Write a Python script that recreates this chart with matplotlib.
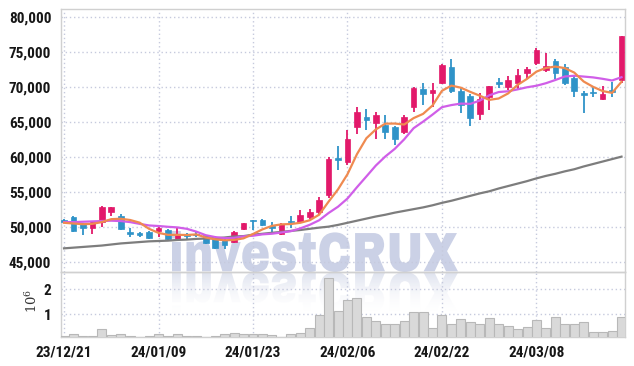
import matplotlib
matplotlib.use("Agg")
import matplotlib.pyplot as plt
import numpy as np
from matplotlib.textpath import TextPath
from matplotlib.patches import PathPatch
from matplotlib.font_manager import FontProperties
from matplotlib.transforms import Affine2D
from matplotlib.colors import LinearSegmentedColormap

dates = ["23/12/21", "23/12/22", "23/12/26", "23/12/27", "23/12/28", "24/01/02", "24/01/03", "24/01/04",
         "24/01/05", "24/01/08", "24/01/09", "24/01/10", "24/01/11", "24/01/12", "24/01/15", "24/01/16",
         "24/01/17", "24/01/18", "24/01/19", "24/01/22", "24/01/23", "24/01/24", "24/01/25", "24/01/26",
         "24/01/29", "24/01/30", "24/01/31", "24/02/01", "24/02/02", "24/02/05", "24/02/06", "24/02/07",
         "24/02/08", "24/02/13", "24/02/14", "24/02/15", "24/02/16", "24/02/19", "24/02/20", "24/02/21",
         "24/02/22", "24/02/23", "24/02/26", "24/02/27", "24/02/28", "24/02/29", "24/03/04", "24/03/05",
         "24/03/06", "24/03/07", "24/03/08", "24/03/11", "24/03/12", "24/03/13", "24/03/14", "24/03/15",
         "24/03/18", "24/03/19", "24/03/20", "24/03/21"]

opens = [51000, 51400, 50400, 49900, 50700, 52200, 51600, 49300, 49100, 49300,
         49400, 49600, 48300, 48800, 48900, 48800, 48600, 48100, 47900, 49700,
         50900, 51000, 50200, 49000, 50900, 50700, 51400, 52100, 54600, 59800,
         59300, 64300, 65700, 64900, 64600, 64300, 63600, 67100, 69700, 69100,
         70600, 72900, 69400, 68700, 66100, 68600, 70700, 70000, 70600, 72000,
         73400, 72400, 73700, 72900, 71300, 69100, 69300, 68300, 69600, 71000]
highs = [51100, 51500, 50600, 50800, 53000, 52900, 51900, 49800, 49300, 49400,
         50050, 49700, 49800, 49100, 49400, 48900, 48700, 48400, 49400, 50600,
         51000, 51200, 50700, 50500, 51500, 52400, 52600, 54300, 60000, 61500,
         63900, 67100, 66900, 66400, 66000, 64400, 66000, 70000, 70600, 70600,
         73300, 74000, 69800, 69000, 69100, 70200, 71300, 71500, 72600, 72900,
         75600, 74900, 74000, 73300, 71700, 69400, 70000, 70100, 70700, 77300]
lows = [50600, 49300, 48900, 49000, 50000, 51600, 49500, 48600, 48500, 48300,
        48600, 48200, 48200, 48300, 48500, 47600, 46800, 46900, 47700, 49500,
        49600, 50100, 49300, 48800, 49800, 50500, 51200, 51900, 54100, 58200,
        58900, 63300, 63900, 62600, 62600, 61700, 63300, 66400, 67400, 67100,
        70400, 69200, 66300, 64400, 65300, 66700, 69900, 69500, 69500, 71100,
        73200, 72100, 71100, 70300, 68600, 66300, 68600, 68100, 68600, 70600]
closes = [50700, 49400, 49900, 50700, 52800, 52800, 49700, 49000, 48800, 48400,
          49900, 48300, 49000, 48700, 48800, 47700, 47000, 47400, 49300, 50500,
          50800, 50300, 49900, 50400, 50700, 51700, 52100, 53900, 59700, 59500,
          62500, 66400, 65300, 66000, 63600, 62600, 65700, 69900, 69000, 69600,
          73100, 69400, 67400, 65600, 68300, 70100, 70400, 71000, 71700, 72600,
          75300, 73000, 72000, 70600, 69400, 68900, 69200, 69000, 69300, 77300]

ma5 = [50600, 50500, 50400, 50450, 50700, 51120, 51180, 51000, 50620, 49740,
       49160, 48880, 48880, 48860, 48940, 48500, 48240, 48100, 48150, 48380,
       49000, 49660, 50160, 50380, 50420, 50600, 50960, 51760, 53620, 55380,
       57540, 60400, 62680, 63940, 64760, 64780, 64640, 65560, 66160, 67360,
       69460, 70200, 69900, 69300, 68760, 68160, 68360, 69080, 70300, 71160,
       72200, 72720, 72920, 72700, 72060, 70780, 70020, 69420, 69160, 70740]
ma10 = [50700, 50700, 50750, 50800, 50850, 50900, 50850, 50700, 50450, 50220,
        50140, 50030, 49940, 49740, 49340, 48830, 48560, 48400, 48450, 48660,
        48750, 48950, 49040, 49210, 49400, 49800, 50310, 50960, 52000, 52900,
        54070, 55680, 57220, 58780, 60070, 61160, 62520, 64120, 65050, 66060,
        67120, 67420, 67630, 67590, 68060, 68810, 69280, 69390, 69660, 69960,
        70180, 70540, 71000, 71500, 71610, 71490, 71370, 71170, 70930, 71400]
ma60 = [46950, 47050, 47150, 47250, 47350, 47500, 47650, 47750, 47850, 47950,
        48000, 48050, 48150, 48200, 48300, 48350, 48400, 48500, 48650, 48700,
        48900, 49030, 49170, 49300, 49440, 49570, 49740, 49910, 50050, 50300,
        50600, 50900, 51200, 51500, 51750, 52050, 52300, 52550, 52800, 53100,
        53450, 53750, 54100, 54450, 54800, 55100, 55500, 55850, 56200, 56550,
        56950, 57300, 57600, 57950, 58250, 58650, 59000, 59350, 59700, 60050]
volume_m = [0.12, 0.20, 0.12, 0.12, 0.40, 0.15, 0.20, 0.12, 0.05, 0.12,
            0.20, 0.12, 0.20, 0.12, 0.12, 0.08, 0.13, 0.20, 0.23, 0.20,
            0.20, 0.20, 0.16, 0.09, 0.20, 0.23, 0.44, 0.94, 2.44, 1.14,
            1.55, 1.66, 0.87, 0.71, 0.60, 0.60, 0.71, 1.07, 1.07, 0.44,
            0.98, 0.60, 0.80, 0.67, 0.60, 0.84, 0.60, 0.52, 0.40, 0.49,
            0.76, 0.44, 0.87, 0.60, 0.60, 0.68, 0.29, 0.29, 0.33, 0.87]
price_ticks = [45000, 50000, 55000, 60000, 65000, 70000, 75000, 80000]
vol_ticks = [1, 2]

LABEL_FONT = ["Roboto Condensed", "Archivo Narrow", "Barlow Condensed", "DejaVu Sans"]

W, H = 634, 366
fig = plt.figure(figsize=(W / 100, H / 100), dpi=100)
fig.patch.set_facecolor("white")

# watermark (pixel coordinates)
bg = fig.add_axes([0, 0, 1, 1], zorder=-5)
bg.set_xlim(0, W)
bg.set_ylim(0, H)
bg.axis("off")
fp = FontProperties(family=["Archivo Black", "DejaVu Sans"], weight="bold")
tp = TextPath((0, 0), "investCRUX", size=100, prop=fp)
bb = tp.get_extents()
x0, x1 = 172, 458
yb = H - 272
ht = 41
sx = (x1 - x0) / bb.width
sy = ht / bb.height
t_main = Affine2D().translate(-bb.x0, -bb.y0).scale(sx, sy).translate(x0, yb)
t_refl = Affine2D().translate(-bb.x0, -bb.y0).scale(sx, -sy).translate(x0, yb)
bg.add_patch(PathPatch(t_main.transform_path(tp), facecolor="#cbd1e6", edgecolor="none", transform=bg.transData))
refl = PathPatch(t_refl.transform_path(tp), facecolor="none", edgecolor="none", transform=bg.transData)
bg.add_patch(refl)
grad = np.linspace(0.9, 0.05, 100).reshape(-1, 1)
cm = LinearSegmentedColormap.from_list("wm", [(1, 1, 1, 0), (0.84, 0.86, 0.92, 1)])
im = bg.imshow(grad, extent=[x0, x1, yb - ht, yb], cmap=cm, vmin=0, vmax=1, aspect="auto", origin="upper")
im.set_clip_path(refl)

left, right = 61 / W, 625 / W
ax = fig.add_axes([left, 1 - 272 / H, right - left, (272 - 9) / H])
axv = fig.add_axes([left, 1 - 337 / H, right - left, (337 - 272) / H], sharex=ax)
for a in (ax, axv):
    a.set_facecolor("none")
    for s in a.spines.values():
        s.set_color("#d0d0d0")
        s.set_linewidth(1.0)

x = np.arange(len(dates))
o = np.array(opens); c = np.array(closes)
up = c >= o
red, blue = "#e2196a", "#2f93c8"
cols = [red if u else blue for u in up]
ax.vlines(x, lows, highs, colors=cols, linewidth=1.3, zorder=3)
bottoms = np.minimum(o, c)
heights = np.maximum(np.abs(c - o), 130)
ax.bar(x, heights, bottom=bottoms, width=0.6, color=cols, edgecolor=cols, linewidth=0.5, zorder=4)
ax.plot(x, ma60, color="#7d7d7d", lw=1.6, zorder=5)
ax.plot(x, ma10, color="#d05ee8", lw=1.6, zorder=5)
ax.plot(x, ma5, color="#ef8a50", lw=1.6, zorder=5)

ax.set_xlim(-0.32, 59.37)
ax.set_ylim(43571, 81143)
ax.set_yticks(price_ticks)
ax.set_yticklabels([f"{v:,}" for v in price_ticks])
tick_idx = list(range(0, len(dates), 10))
ax.set_xticks(tick_idx)
ax.tick_params(axis="x", labelbottom=False, length=0)
grid_kw = dict(color="#c6cadd", linestyle=(0, (1, 2)), linewidth=1.0)
ax.grid(True, **grid_kw)
ax.set_axisbelow(True)

axv.bar(x, volume_m, width=0.95, color="#d9d9d9", edgecolor="#b8b8b8", linewidth=0.8, zorder=3)
axv.set_ylim(0.07, 2.70)
axv.set_yticks(vol_ticks)
axv.set_yticklabels([str(v) for v in vol_ticks])
axv.set_xticks(tick_idx)
axv.set_xticklabels([dates[i] for i in tick_idx])
axv.grid(True, **grid_kw)
axv.set_axisbelow(True)

for a in (ax, axv):
    a.tick_params(axis="both", length=0, colors="#161616", labelsize=11)
    for lbl in a.get_yticklabels() + a.get_xticklabels():
        lbl.set_fontfamily(LABEL_FONT)
        lbl.set_fontweight("bold")
    a.tick_params(axis="y", pad=7)
    a.tick_params(axis="x", pad=6)

fig.text(32 / W, 1 - 301 / H, r"$10^6$", rotation=90, ha="center", va="center",
         fontsize=9.5, color="#333333", math_fontfamily="dejavuserif")

fig.savefig("out.png", dpi=100)
